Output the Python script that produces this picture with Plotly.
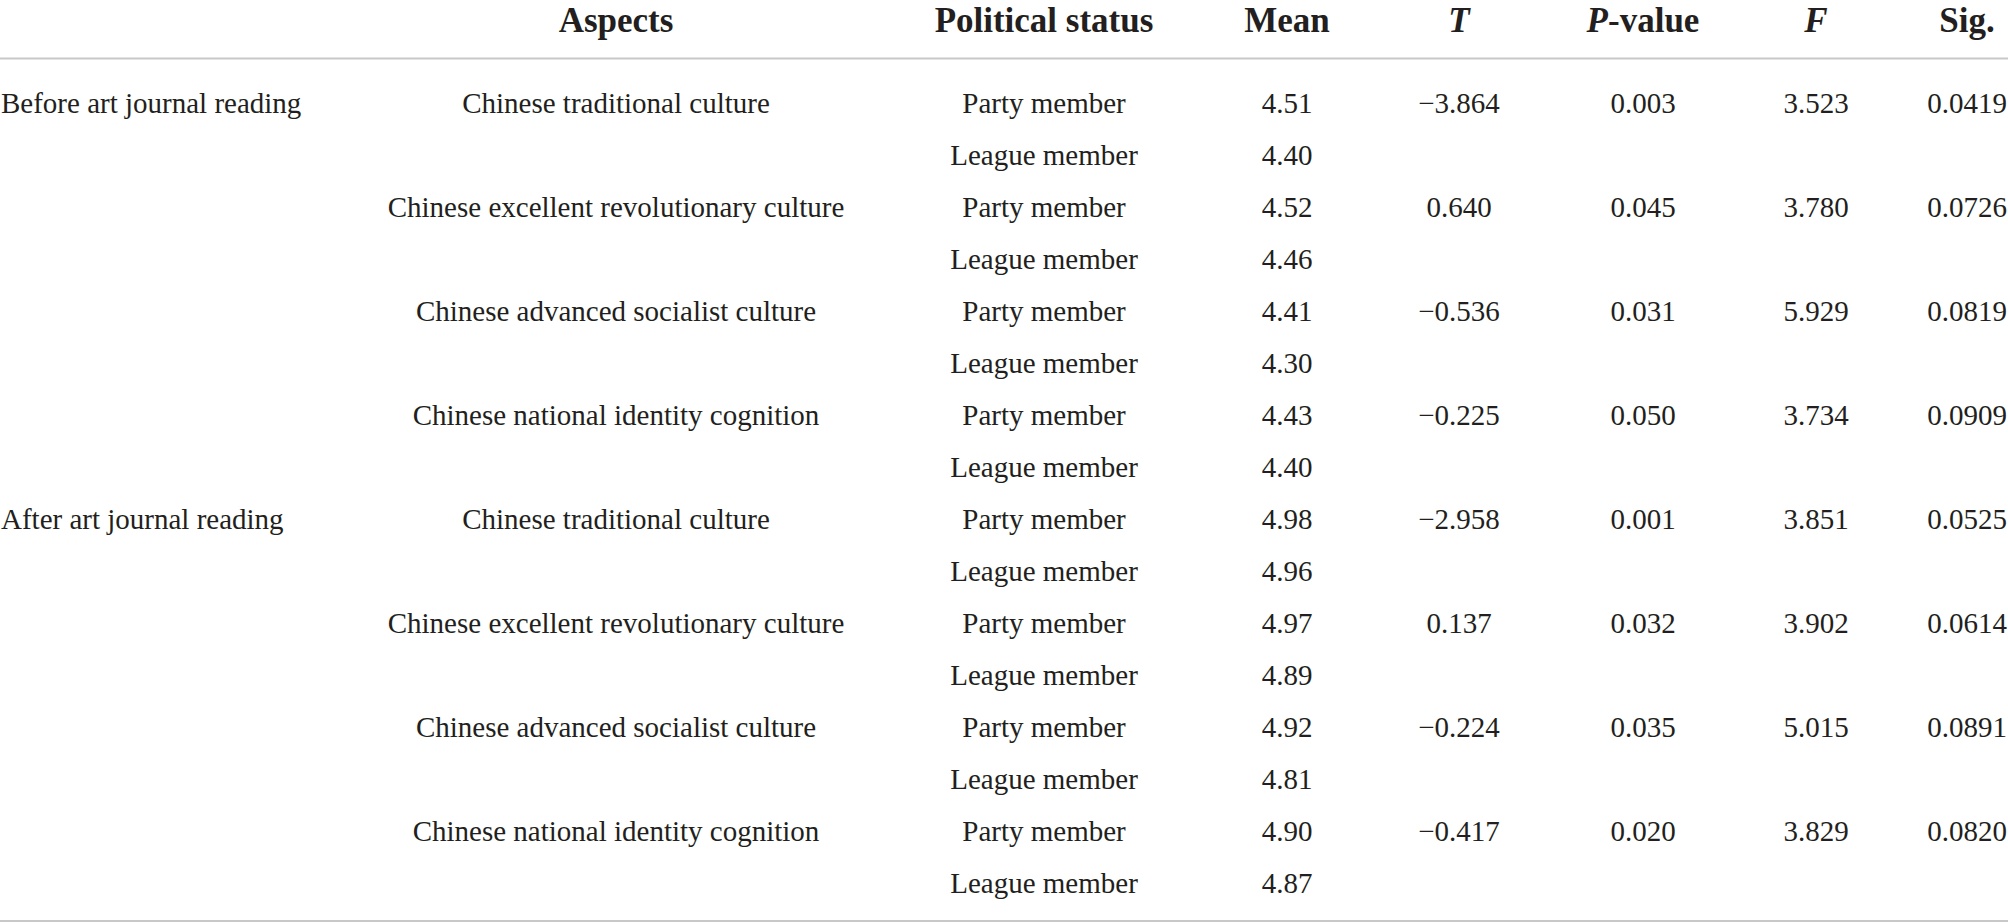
import plotly.graph_objects as go

# ---- data ----
headers = ["<b>Aspects</b>", "<b>Political status</b>", "<b>Mean</b>", "<b><i>T</i></b>",
           "<b><i>P</i>-value</b>", "<b><i>F</i></b>", "<b>Sig.</b>"]
phases = ["Before art journal reading", "After art journal reading"]
aspects = ["Chinese traditional culture", "Chinese excellent revolutionary culture",
           "Chinese advanced socialist culture", "Chinese national identity cognition"]
statuses = ["Party member", "League member"]
means = [4.51, 4.40, 4.52, 4.46, 4.41, 4.30, 4.43, 4.40,
         4.98, 4.96, 4.97, 4.89, 4.92, 4.81, 4.90, 4.87]
t_vals = ["\u22123.864", "0.640", "\u22120.536", "\u22120.225",
          "\u22122.958", "0.137", "\u22120.224", "\u22120.417"]
p_vals = ["0.003", "0.045", "0.031", "0.050", "0.001", "0.032", "0.035", "0.020"]
f_vals = ["3.523", "3.780", "5.929", "3.734", "3.851", "3.902", "5.015", "3.829"]
sig_vals = ["0.0419", "0.0726", "0.0819", "0.0909", "0.0525", "0.0614", "0.0891", "0.0820"]

# ---- layout constants ----
W, H = 2008, 923
col_x = [616, 1044, 1287, 1459, 1643, 1816, 1967]   # centres of columns 1..7
first_col_x = 1
row0_px, row_h = 105.5, 52
header_px = 23
text_color = "#231f20"
body_font = dict(family="Liberation Serif", size=29, color=text_color)
head_font = dict(family="Liberation Serif", size=35, color=text_color)

def r(px):
    return (px - row0_px) / row_h

n_rows = len(means)
rows = list(range(n_rows))

fig = go.Figure()

def add_text(xs, ys, texts, font, pos="middle center"):
    fig.add_trace(go.Scatter(x=xs, y=ys, mode="text", text=texts, textposition=pos,
                             textfont=font, hoverinfo="skip", cliponaxis=False))

# header
add_text(col_x, [r(header_px)] * len(headers), headers, head_font)

# phase column (left aligned)
add_text([first_col_x] * 2, [0, n_rows // 2], phases, body_font, "middle right")

# aspects: one per pair of rows
group_rows = rows[::2]
add_text([col_x[0]] * len(group_rows), group_rows, aspects * 2, body_font)

# political status
add_text([col_x[1]] * n_rows, rows, statuses * (n_rows // 2), body_font)

# mean
add_text([col_x[2]] * n_rows, rows, [f"{m:.2f}" for m in means], body_font)

# stats columns
for ci, vals in zip([3, 4, 5, 6], [t_vals, p_vals, f_vals, sig_vals]):
    add_text([col_x[ci]] * len(group_rows), group_rows, vals, body_font)

line_style = dict(color="#c8c8c8", width=2)
fig.add_shape(type="line", xref="paper", x0=0, x1=1, yref="y", y0=r(58.5), y1=r(58.5),
              line=line_style)
fig.add_shape(type="line", xref="paper", x0=0, x1=1, yref="y", y0=r(921), y1=r(921),
              line=line_style)

fig.update_layout(
    width=W, height=H, margin=dict(l=0, r=0, t=0, b=0),
    paper_bgcolor="white", plot_bgcolor="white", showlegend=False,
    xaxis=dict(range=[0, W], visible=False, fixedrange=True),
    yaxis=dict(range=[r(H), r(0)], visible=False, fixedrange=True),
)

fig.write_html("out.html", config={"displayModeBar": False},
               post_script="document.body.style.margin='0';document.body.style.overflow='hidden';")
